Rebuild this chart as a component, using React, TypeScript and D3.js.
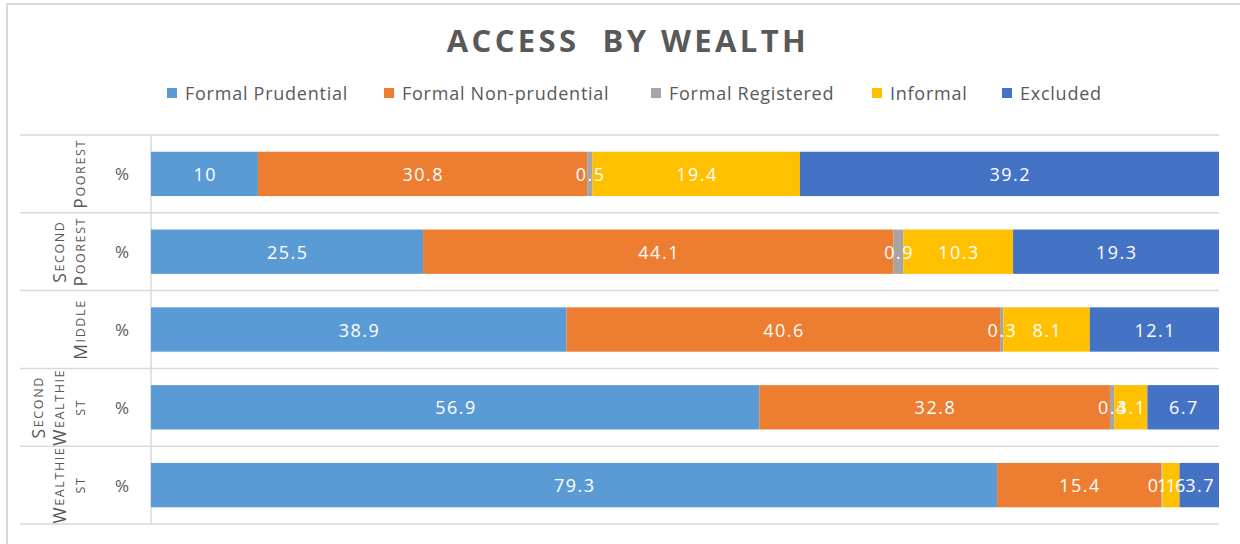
import React from 'react';
import * as d3 from 'd3';

// categories: each label split into its wrapped lines (outer axis level)
const categories = ['Poorest', 'Second Poorest', 'Middle', 'Second Wealthiest', 'Wealthiest'];
const categoryLines = [['Poorest'], ['Second', 'Poorest'], ['Middle'], ['Second', 'Wealthie', 'st'], ['Wealthie', 'st']];
const innerLabel = '%';

const seriesNames = ['Formal Prudential', 'Formal Non-prudential', 'Formal Registered', 'Informal', 'Excluded'];
const seriesColors = ['#5B9BD5', '#ED7D31', '#A5A5A5', '#FFC000', '#4472C4'];

const formalPrudential = [10, 25.5, 38.9, 56.9, 79.3];
const formalNonPrudential = [30.8, 44.1, 40.6, 32.8, 15.4];
const formalRegistered = [0.5, 0.9, 0.3, 0.4, 0.1];
const informal = [19.4, 10.3, 8.1, 3.1, 1.6];
const excluded = [39.2, 19.3, 12.1, 6.7, 3.7];

const seriesValues = [formalPrudential, formalNonPrudential, formalRegistered, informal, excluded];

const W = 1240;
const H = 544;
const plotLeft = 151;
const plotRight = 1219;
const plotTop = 135;
const plotBottom = 524;
const font = "'Open Sans', 'Noto Sans', sans-serif";
const gray = '#595959';

function SmallCaps({ text, big, small }: { text: string; big: number; small: number }) {
  // Excel-like small caps: uppercase letters large, lowercase as smaller capitals
  const parts = text.split('').map((ch, i) => {
    const isUpper = ch === ch.toUpperCase();
    return (
      <tspan key={i} fontSize={isUpper ? big : small}>
        {ch.toUpperCase()}
      </tspan>
    );
  });
  return <>{parts}</>;
}

export default function App() {
  const y = d3.scaleBand<string>().domain(categories).range([plotTop, plotBottom]).paddingInner(0.43).paddingOuter(0.215);
  const band = (plotBottom - plotTop) / categories.length;

  const rows = categories.map((c, i) => {
    const vals = seriesValues.map((s) => s[i]);
    const total = d3.sum(vals);
    const x = d3.scaleLinear().domain([0, total]).range([plotLeft, plotRight]);
    let acc = 0;
    const segs = vals.map((v, k) => {
      const x0 = x(acc);
      acc += v;
      const x1 = x(acc);
      return { k, v, x0, x1 };
    });
    return { c, i, segs };
  });

  const legendX = [167, 384, 651, 872, 1002];

  return (
    <svg width={W} height={H} style={{ position: 'absolute', left: 0, top: 0, background: '#fff' }} fontFamily={font}>
      <rect x={7} y={4} width={1260} height={560} fill="#fff" stroke="#D9D9D9" strokeWidth={2} />
      <text x={628} y={52} textAnchor="middle" fontSize={31} fontWeight="bold" fill={gray} letterSpacing={3.4} style={{ whiteSpace: 'pre' }}>
        ACCESS  BY WEALTH
      </text>
      {seriesNames.map((n, k) => (
        <g key={n}>
          <rect x={legendX[k]} y={88} width={10} height={10} fill={seriesColors[k]} />
          <text x={legendX[k] + 18} y={93} dominantBaseline="central" fontSize={18} letterSpacing={0.75} fill={gray}>
            {n}
          </text>
        </g>
      ))}
      {/* row separators */}
      {d3.range(categories.length + 1).map((j) => (
        <line key={j} x1={20} x2={plotRight} y1={plotTop + j * band} y2={plotTop + j * band} stroke="#D9D9D9" strokeWidth={1.5} />
      ))}
      <line x1={plotLeft} x2={plotLeft} y1={plotTop} y2={plotBottom} stroke="#D9D9D9" strokeWidth={1.5} />
      {rows.map((r) => {
        const by = y(r.c)!;
        const bh = y.bandwidth();
        const cy = plotTop + (r.i + 0.5) * band;
        const lines = categoryLines[r.i];
        return (
          <g key={r.c}>
            {r.segs.map((s) => (
              <rect key={s.k} x={s.x0} y={by} width={s.x1 - s.x0} height={bh} fill={seriesColors[s.k]} />
            ))}
            {r.segs.map((s) => (
              <text key={'t' + s.k} x={(s.x0 + s.x1) / 2 + 0.8} y={by + bh / 2} textAnchor="middle" dominantBaseline="central" fontSize={18} letterSpacing={1.5} fill="#fff">
                {s.v}
              </text>
            ))}
            <text x={122} y={cy} textAnchor="middle" dominantBaseline="central" fontSize={17} fill={gray}>
              {innerLabel}
            </text>
            {lines.map((ln, li) => {
              const lx = 80 - (lines.length - 1 - li) * 21;
              return (
                <text
                  key={ln + li}
                  transform={`translate(${lx},${cy}) rotate(-90)`}
                  textAnchor="middle"
                  dominantBaseline="central"
                  fill={gray}
                  letterSpacing={1.6}
                >
                  <SmallCaps text={ln} big={17.5} small={12.5} />
                </text>
              );
            })}
          </g>
        );
      })}
    </svg>
  );
}
